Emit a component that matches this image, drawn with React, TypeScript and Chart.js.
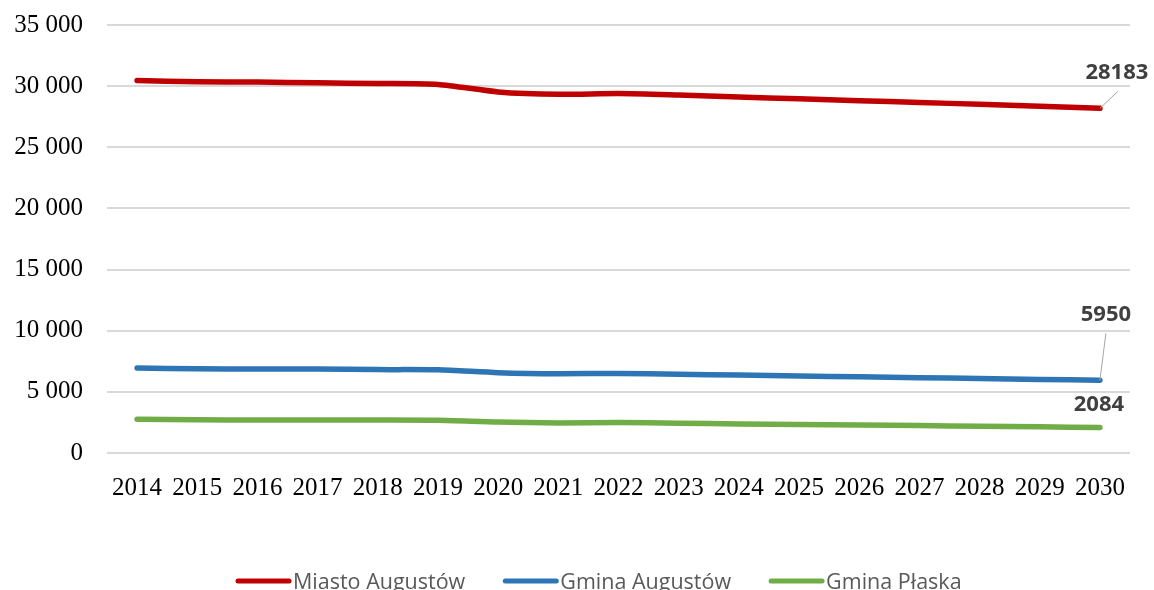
import React, { useEffect, useRef } from "react";
import { Chart, registerables } from "chart.js";

Chart.register(...registerables);

const years = ["2014","2015","2016","2017","2018","2019","2020","2021","2022","2023","2024","2025","2026","2027","2028","2029","2030"];
const miastoAugustow = [30460, 30350, 30330, 30270, 30220, 30140, 29530, 29330, 29400, 29280, 29120, 28960, 28810, 28670, 28510, 28350, 28183];
const gminaAugustow = [6950, 6890, 6870, 6870, 6820, 6800, 6570, 6480, 6510, 6440, 6370, 6300, 6230, 6160, 6090, 6020, 5950];
const gminaPlaska = [2760, 2720, 2700, 2700, 2700, 2680, 2530, 2460, 2490, 2430, 2380, 2330, 2290, 2240, 2190, 2140, 2084];
const yTicks = [0, 5000, 10000, 15000, 20000, 25000, 30000, 35000];
const seriesNames = ["Miasto Augustów", "Gmina Augustów", "Gmina Płaska"];
const seriesColors = ["#c00000", "#2e75b6", "#70ad47"];

const labelStyle = [
  { dx: 17, dy: -36, leader: [18, -17] },
  { dx: 6, dy: -66, leader: [6, -47] },
  { dx: -1, dy: -23, leader: null },
];

const fmt = (v: number) => {
  const s = String(Math.round(v));
  return s.replace(/\B(?=(\d{3})+(?!\d))/g, " ");
};

const endLabels = {
  id: "endLabels",
  afterDatasetsDraw(chart: any) {
    const ctx = chart.ctx;
    ctx.save();
    chart.data.datasets.forEach((ds: any, i: number) => {
      const meta = chart.getDatasetMeta(i);
      const last = meta.data[meta.data.length - 1];
      if (!last) return;
      const st = labelStyle[i];
      if (st.leader) {
        ctx.strokeStyle = "#a6a6a6";
        ctx.lineWidth = 1;
        ctx.beginPath();
        ctx.moveTo(last.x, last.y);
        ctx.lineTo(last.x + st.leader[0], last.y + st.leader[1]);
        ctx.stroke();
      }
      ctx.fillStyle = "#404040";
      ctx.font = "bold 22px 'Open Sans', 'Liberation Sans', sans-serif";
      ctx.textAlign = "center";
      ctx.textBaseline = "middle";
      ctx.fillText(String(ds.data[ds.data.length - 1]), last.x + st.dx, last.y + st.dy);
    });
    ctx.restore();
  },
};

const customLegend = {
  id: "customLegend",
  afterDraw(chart: any) {
    const ctx = chart.ctx;
    ctx.save();
    ctx.font = "21.5px 'Open Sans', 'Liberation Sans', sans-serif";
    ctx.textBaseline = "alphabetic";
    ctx.textAlign = "left";
    let x = 236;
    const y = 581;
    chart.data.datasets.forEach((ds: any) => {
      ctx.strokeStyle = ds.borderColor;
      ctx.lineWidth = 5;
      ctx.lineCap = "round";
      ctx.beginPath();
      ctx.moveTo(x + 2, y);
      ctx.lineTo(x + 53, y);
      ctx.stroke();
      ctx.fillStyle = "#595959";
      ctx.fillText(ds.label, x + 57, y + 8);
      const w = ctx.measureText(ds.label).width;
      x = x + 57 + w + 38;
    });
    ctx.restore();
  },
};

export default function App() {
  const ref = useRef<HTMLCanvasElement>(null);
  useEffect(() => {
    if (!ref.current) return;
    const chart = new Chart(ref.current, {
      type: "line",
      data: {
        labels: years,
        datasets: [miastoAugustow, gminaAugustow, gminaPlaska].map((d, i) => ({
          label: seriesNames[i],
          data: d,
          borderColor: seriesColors[i],
          backgroundColor: seriesColors[i],
          borderWidth: 5.5,
          pointRadius: 0,
          tension: 0.25,
          borderCapStyle: "round" as const,
          borderJoinStyle: "round" as const,
        })),
      },
      options: {
        animation: false,
        responsive: false,
        layout: { padding: { top: 25, right: 24, left: 0, bottom: 0 } },
        plugins: { legend: { display: false }, tooltip: { enabled: false } },
        scales: {
          x: {
            offset: true,
            grid: { display: false, drawTicks: false },
            border: { display: false },
            ticks: {
              color: "#000",
              font: { family: "'Liberation Serif', 'Times New Roman', serif", size: 25 },
              padding: 20,
              maxRotation: 0,
              autoSkip: false,
            },
            afterFit(scale: any) {
              scale.height = 590 - 453;
              scale.paddingLeft = 0;
              scale.paddingRight = 0;
            },
          },
          y: {
            min: 0,
            max: 35000,
            grid: { color: "#d9d9d9", lineWidth: 2, drawTicks: false },
            border: { display: false },
            afterBuildTicks(scale: any) {
              scale.ticks = yTicks.map((v) => ({ value: v }));
            },
            ticks: {
              color: "#000",
              font: { family: "'Liberation Serif', 'Times New Roman', serif", size: 25 },
              padding: 24,
              callback: (v: any) => fmt(Number(v)),
            },
            afterFit(scale: any) {
              scale.width = 107;
              scale.paddingTop = 0;
              scale.paddingBottom = 0;
            },
          },
        },
      },
      plugins: [endLabels, customLegend],
    });
    return () => chart.destroy();
  }, []);
  return (
    <div style={{ position: "absolute", left: 0, top: 0, width: 1154, height: 590, background: "#fff" }}>
      <canvas ref={ref} width={1154} height={590} style={{ display: "block" }} />
    </div>
  );
}
